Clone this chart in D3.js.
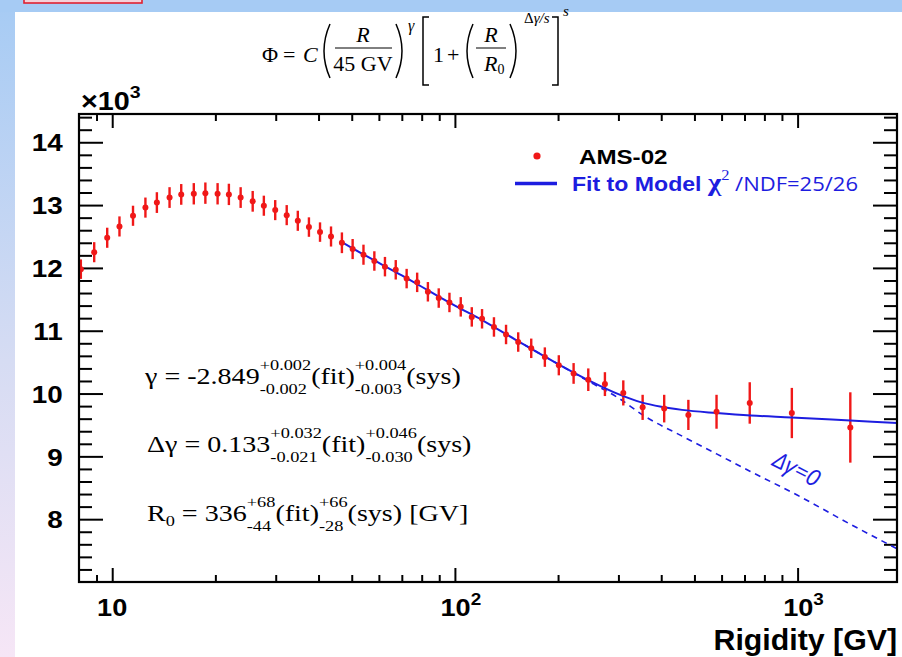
<!DOCTYPE html>
<html><head><meta charset="utf-8">
<script src="https://cdn.jsdelivr.net/npm/d3@7/dist/d3.min.js"></script>
<style>body{margin:0;background:#fff}svg{display:block}</style>
</head><body>
<svg id="c" width="902" height="657"></svg>
<script>
// ---------------- data ----------------
const rigidity = [8.1, 8.86, 9.67, 10.5, 11.5, 12.5, 13.5, 14.7, 15.9, 17.3, 18.7, 20.3, 21.9, 23.7, 25.7, 27.7, 29.9, 32.3, 34.8, 37.5, 40.4, 43.5, 46.8, 50.3, 54.1, 58.2, 62.5, 67.2, 72.3, 77.6, 83.4, 89.7, 96.4, 104, 112, 120, 130, 141, 153, 167, 183, 201, 222, 245, 274, 310, 353, 408, 480, 580, 725, 962, 1425];
const flux = [11.98, 12.25, 12.48, 12.66, 12.83, 12.96, 13.04, 13.12, 13.17, 13.18, 13.19, 13.18, 13.17, 13.12, 13.06, 12.99, 12.92, 12.84, 12.75, 12.65, 12.57, 12.50, 12.40, 12.30, 12.21, 12.11, 12.02, 11.97, 11.83, 11.77, 11.62, 11.52, 11.45, 11.38, 11.22, 11.19, 11.06, 10.94, 10.82, 10.72, 10.58, 10.45, 10.32, 10.22, 10.15, 10.01, 9.78, 9.76, 9.66, 9.71, 9.85, 9.69, 9.46];
const fluxErr = [0.155, 0.16, 0.16, 0.16, 0.16, 0.16, 0.165, 0.165, 0.165, 0.17, 0.17, 0.17, 0.17, 0.165, 0.165, 0.16, 0.16, 0.16, 0.16, 0.155, 0.155, 0.16, 0.165, 0.16, 0.16, 0.155, 0.155, 0.155, 0.155, 0.155, 0.155, 0.155, 0.155, 0.155, 0.155, 0.155, 0.155, 0.155, 0.155, 0.155, 0.155, 0.16, 0.165, 0.18, 0.19, 0.2, 0.2, 0.22, 0.24, 0.27, 0.33, 0.4, 0.56];
const fitR = [46.8, 50, 60, 70, 80, 90, 100, 120, 150, 200, 250, 300, 350, 400, 460, 580, 730, 960, 1425, 1950];
const fitV = [12.41, 12.32, 12.08, 11.88, 11.70, 11.54, 11.40, 11.17, 10.86, 10.47, 10.19, 9.99, 9.86, 9.79, 9.74, 9.69, 9.65, 9.62, 9.57, 9.53];
const noBreakR = [150, 200, 250, 300, 353, 465, 580, 728, 1000, 1425, 1950];
const noBreakV = [10.86, 10.47, 10.17, 9.93, 9.66, 9.31, 9.04, 8.76, 8.38, 7.92, 7.53];
const yMajor = [8, 9, 10, 11, 12, 13, 14];
const yMinor = [7.2, 7.4, 7.6, 7.8, 8.2, 8.4, 8.6, 8.8, 9.2, 9.4, 9.6, 9.8, 10.2, 10.4, 10.6, 10.8, 11.2, 11.4, 11.6, 11.8, 12.2, 12.4, 12.6, 12.8, 13.2, 13.4, 13.6, 13.8, 14.2, 14.4];
const xMajor = [10, 100, 1000];
const xMinor = [9, 20, 30, 40, 50, 60, 70, 80, 90, 200, 300, 400, 500, 600, 700, 800, 900];
const xLabels = [{v: 10, base: "10", sup: ""}, {v: 100, base: "10", sup: "2"}, {v: 1000, base: "10", sup: "3"}];

// ---------------- setup ----------------
const svg = d3.select("#c");
const W = 902, H = 657;
const m = {l: 79, r: 897, t: 114, b: 582};
const x = d3.scaleLog().domain([8, 1950]).range([m.l, m.r]);
const y = d3.scaleLinear().domain([7.0, 14.45]).range([m.b, m.t]);
const RED = "#f01818", BLUE = "#1d1de0";
const SERIF = "'Liberation Serif','DejaVu Serif',serif";
const SANS = "'Liberation Sans',Arial,sans-serif";

// background slide decorations
const defs = svg.append("defs");
const lg = defs.append("linearGradient").attr("id", "lband").attr("x1", 0).attr("y1", 0).attr("x2", 0).attr("y2", 1);
lg.append("stop").attr("offset", "0").attr("stop-color", "#a6cbf4");
lg.append("stop").attr("offset", "0.55").attr("stop-color", "#d6dcf3");
lg.append("stop").attr("offset", "1").attr("stop-color", "#f6e6f6");
svg.append("rect").attr("x", 0).attr("y", 0).attr("width", W).attr("height", H).attr("fill", "#fff");
svg.append("rect").attr("x", 0).attr("y", 0).attr("width", 15).attr("height", H).attr("fill", "url(#lband)");
svg.append("rect").attr("x", 0).attr("y", 0).attr("width", W).attr("height", 12).attr("fill", "#a6cbf4");
svg.append("rect").attr("x", 24).attr("y", -3).attr("width", 118).attr("height", 6).attr("fill", "#f4d0d8").attr("stroke", "#e02030").attr("stroke-width", 1.6);

defs.append("clipPath").attr("id", "clip").append("rect")
  .attr("x", m.l).attr("y", m.t).attr("width", m.r - m.l).attr("height", m.b - m.t);

// helper for stretched text
function stext(parent, px, py, str, o) {
  const g = parent.append("g").attr("transform", `translate(${px},${py}) scale(${o.sx || 1},1)`);
  const t = g.append("text").attr("x", 0).attr("y", 0)
    .attr("font-family", o.family || SANS).attr("font-size", o.size || 20)
    .attr("font-weight", o.weight || "normal").attr("font-style", o.style || "normal")
    .attr("fill", o.fill || "#000").attr("text-anchor", o.anchor || "start").text(str);
  return t;
}

// ---------------- axes / ticks ----------------
function clean(g) { g.select(".domain").remove(); g.selectAll("line").attr("stroke", "#000").attr("stroke-width", 2); return g; }
const yl = svg.append("g").attr("transform", `translate(${m.l},0)`)
  .call(d3.axisLeft(y).tickValues(yMajor).tickSizeInner(-24).tickSizeOuter(0).tickPadding(14).tickFormat(d3.format("d")));
clean(yl);
yl.selectAll("text").attr("font-family", SANS).attr("font-weight", "bold").attr("font-size", 24).attr("fill", "#000")
  .attr("transform", "scale(1.16,1)").attr("dy", "0.36em");
clean(svg.append("g").attr("transform", `translate(${m.l},0)`).call(d3.axisLeft(y).tickValues(yMinor).tickSizeInner(-13).tickSizeOuter(0).tickFormat(() => "")));
clean(svg.append("g").attr("transform", `translate(${m.r},0)`).call(d3.axisRight(y).tickValues(yMajor).tickSizeInner(-24).tickSizeOuter(0).tickFormat(() => "")));
clean(svg.append("g").attr("transform", `translate(${m.r},0)`).call(d3.axisRight(y).tickValues(yMinor).tickSizeInner(-13).tickSizeOuter(0).tickFormat(() => "")));
clean(svg.append("g").attr("transform", `translate(0,${m.b})`).call(d3.axisBottom(x).tickValues(xMajor).tickSizeInner(-14).tickSizeOuter(0).tickFormat(() => "")));
clean(svg.append("g").attr("transform", `translate(0,${m.b})`).call(d3.axisBottom(x).tickValues(xMinor).tickSizeInner(-7).tickSizeOuter(0).tickFormat(() => "")));
clean(svg.append("g").attr("transform", `translate(0,${m.t})`).call(d3.axisTop(x).tickValues(xMajor).tickSizeInner(-14).tickSizeOuter(0).tickFormat(() => "")));
clean(svg.append("g").attr("transform", `translate(0,${m.t})`).call(d3.axisTop(x).tickValues(xMinor).tickSizeInner(-7).tickSizeOuter(0).tickFormat(() => "")));

// x labels
xLabels.forEach(d => {
  const t = stext(svg, x(d.v), 616, "", {size: 23, weight: "bold", sx: 1.18, anchor: "middle"});
  t.append("tspan").text(d.base);
  if (d.sup) t.append("tspan").attr("font-size", 16).attr("dy", -11).text(d.sup);
  if (d.sup) t.attr("dx", 5);
});
stext(svg, 897, 650, "Rigidity [GV]", {size: 30, weight: "bold", sx: 1.01, anchor: "end"});
{ const t = stext(svg, 81, 110, "", {size: 25, weight: "bold", sx: 1.15});
  t.append("tspan").text("×10"); t.append("tspan").attr("font-size", 17).attr("dy", -12).text("3"); }

// ---------------- plot marks ----------------
const plot = svg.append("g").attr("clip-path", "url(#clip)");
const pts = rigidity.map((r, i) => ({r, v: flux[i], e: fluxErr[i]}));
const line = d3.line().x(d => x(d[0])).y(d => y(d[1])).curve(d3.curveMonotoneX);
plot.append("path").datum(noBreakR.map((r, i) => [r, noBreakV[i]]))
  .attr("d", line).attr("fill", "none").attr("stroke", BLUE).attr("stroke-width", 1.6).attr("stroke-dasharray", "6,5");
plot.selectAll("line.err").data(pts).join("line").attr("class", "err")
  .attr("x1", d => x(d.r)).attr("x2", d => x(d.r)).attr("y1", d => y(d.v - d.e)).attr("y2", d => y(d.v + d.e))
  .attr("stroke", RED).attr("stroke-width", 2.4);
plot.append("path").datum(fitR.map((r, i) => [r, fitV[i]]))
  .attr("d", line).attr("fill", "none").attr("stroke", BLUE).attr("stroke-width", 2);
plot.selectAll("circle.pt").data(pts).join("circle").attr("class", "pt")
  .attr("cx", d => x(d.r)).attr("cy", d => y(d.v)).attr("r", 3).attr("fill", RED);

svg.append("rect").attr("x", m.l).attr("y", m.t).attr("width", m.r - m.l).attr("height", m.b - m.t)
  .attr("fill", "none").attr("stroke", "#000").attr("stroke-width", 2.2);

// Δγ=0 label
svg.append("text").attr("transform", "translate(771,465) rotate(27)")
  .attr("font-family", "'Open Sans','Liberation Sans',sans-serif").attr("font-style", "italic")
  .attr("font-size", 23).attr("fill", BLUE).text("Δγ=0");

// ---------------- legend ----------------
svg.append("circle").attr("cx", 537).attr("cy", 156).attr("r", 3.6).attr("fill", RED);
stext(svg, 579, 164, "AMS-02", {size: 21, weight: "bold", sx: 1.15});
svg.append("line").attr("x1", 515).attr("x2", 557).attr("y1", 183.5).attr("y2", 183.5).attr("stroke", BLUE).attr("stroke-width", 3.5);
{ const t = stext(svg, 572, 191, "", {size: 21, weight: "bold", sx: 1.1, fill: BLUE});
  t.append("tspan").text("Fit to Model ");
  t.append("tspan").attr("font-family", SERIF).attr("font-weight", "bold").attr("font-size", 26).text("χ");
  t.append("tspan").attr("font-family", SERIF).attr("font-weight", "normal").attr("font-size", 15).attr("dy", -11).text("2");
  t.append("tspan").attr("font-weight", "normal").attr("font-family", "'Open Sans','Liberation Sans',sans-serif").attr("font-size", 20).attr("dy", 11).text(" /NDF=25/26"); }

// ---------------- parameter annotations ----------------
function paramRow(px, py, parts) {
  const g = svg.append("g").attr("transform", `translate(${px},${py}) scale(1.22,1)`);
  let cx = 0;
  parts.forEach(p => {
    if (p.main !== undefined) {
      const t = g.append("text").attr("x", cx).attr("y", 0).attr("font-family", SERIF).attr("font-size", 23).text(p.main);
      cx += t.node().getComputedTextLength();
    } else if (p.small !== undefined) {
      const t = g.append("text").attr("x", cx).attr("y", 5).attr("font-family", SERIF).attr("font-size", 15).text(p.small);
      cx += t.node().getComputedTextLength();
    } else {
      const a = g.append("text").attr("x", cx).attr("y", -14).attr("font-family", SERIF).attr("font-size", 15).text(p.sup);
      const b = g.append("text").attr("x", cx).attr("y", 10).attr("font-family", SERIF).attr("font-size", 15).text(p.sub);
      cx += Math.max(a.node().getComputedTextLength(), b.node().getComputedTextLength());
    }
  });
}
paramRow(145, 384, [{main: "γ = -2.849"}, {sup: "+0.002", sub: "-0.002"}, {main: "(fit)"}, {sup: "+0.004", sub: "-0.003"}, {main: "(sys)"}]);
paramRow(147, 452, [{main: "Δγ = 0.133"}, {sup: "+0.032", sub: "-0.021"}, {main: "(fit)"}, {sup: "+0.046", sub: "-0.030"}, {main: "(sys)"}]);
paramRow(147, 521, [{main: "R"}, {small: "0"}, {main: "\u00a0= 336"}, {sup: "+68", sub: "-44"}, {main: "(fit)"}, {sup: "+66", sub: "-28"}, {main: "(sys) [GV]"}]);

// ---------------- formula ----------------
{
  const f = svg.append("g").attr("transform", "translate(262,0)");
  const T = (px, py, s, o = {}) => f.append("text").attr("x", px).attr("y", py).attr("font-family", SERIF)
    .attr("font-size", o.size || 22).attr("font-style", o.it ? "italic" : "normal").attr("text-anchor", o.anchor || "start").text(s);
  const P = d => f.append("path").attr("d", d).attr("fill", "none").attr("stroke", "#000").attr("stroke-width", 1.5);
  T(0, 62, "Φ"); T(21, 62, "="); T(41, 62, "C", {it: true});
  P("M68,24 Q56,51 68,78");
  T(101, 42, "R", {it: true, anchor: "middle"});
  f.append("line").attr("x1", 73).attr("x2", 130).attr("y1", 48).attr("y2", 48).attr("stroke", "#000").attr("stroke-width", 1);
  T(101, 71, "45 GV", {anchor: "middle"});
  P("M134,24 Q146,51 134,78");
  T(146, 31, "γ", {it: true, size: 16});
  P("M167,17 H161 V85 H167");
  T(171, 62, "1"); T(185, 62, "+");
  P("M211,24 Q199,51 211,78");
  T(229, 42, "R", {it: true, anchor: "middle"});
  f.append("line").attr("x1", 214).attr("x2", 244).attr("y1", 48).attr("y2", 48).attr("stroke", "#000").attr("stroke-width", 1);
  { const t = T(222, 71, "R", {it: true}); t.append("tspan").attr("font-size", 14).attr("font-style", "normal").attr("dy", 3).text("0"); }
  P("M248,24 Q260,51 248,78");
  { const t = T(262, 23, "Δ", {size: 15}); t.append("tspan").attr("font-style", "italic").text("γ/s"); }
  P("M290,17 H296 V85 H290");
  T(301, 16, "s", {it: true, size: 15});
}
</script>
</body></html>
